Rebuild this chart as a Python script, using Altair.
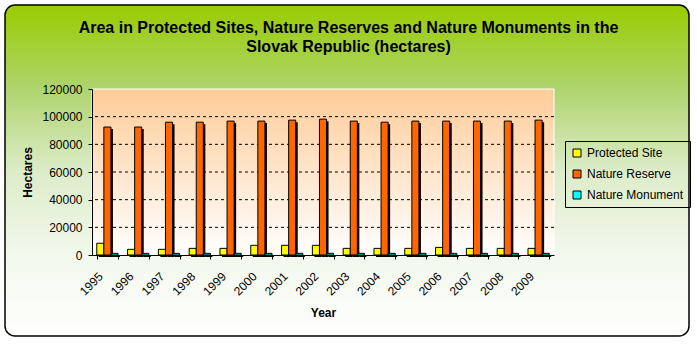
import altair as alt
import pandas as pd

years = [str(y) for y in range(1995, 2010)]
protected_site = [8500, 4100, 4100, 4800, 4800, 7000, 7000, 7000, 4800, 4800, 4800, 5500, 4800, 4800, 4800]
nature_reserve = [92500, 92500, 96000, 96000, 96800, 96800, 97500, 98200, 96800, 96000, 96800, 96800, 96800, 96800, 97500]
nature_monument = [1200, 1200, 1200, 1200, 1200, 1200, 1200, 1200, 1200, 1200, 1200, 1200, 1200, 1200, 1200]
series_names = ["Protected Site", "Nature Reserve", "Nature Monument"]
series_colors = ["#FFFF00", "#FF6600", "#00FFFF"]
grid_values = [20000, 40000, 60000, 80000, 100000]
y_ticks = [0, 20000, 40000, 60000, 80000, 100000, 120000]
title_lines = ["Area in Protected Sites, Nature Reserves and Nature Monuments in the",
               "Slovak Republic (hectares)"]

rows = []
for i, yr in enumerate(years):
    for name, vals in zip(series_names, [protected_site, nature_reserve, nature_monument]):
        rows.append({"Year": yr, "Series": name, "Hectares": vals[i]})
df = pd.DataFrame(rows)

W, H = 462, 166
FONT = "Liberation Sans"

x_scale = alt.Scale(paddingInner=0.31, paddingOuter=0.155)
x_axis = alt.Axis(title="Year", tickBand="extent", labelAngle=-45, labelAlign="right",
                  labelBaseline="middle", labelFontSize=12, labelFont=FONT, labelColor="black",
                  labelPadding=15, labelOffset=-7, tickSize=4, tickColor="black", domainColor="black",
                  grid=False,
                  titleFont=FONT, titleFontSize=12, titleFontWeight="bold", titleColor="black",
                  titleY=57, titleBaseline="middle", zindex=1)
y_scale = alt.Scale(domain=[0, 120000], nice=False)
y_axis = alt.Axis(title="Hectares", values=y_ticks, format="d", grid=False,
                  labelFontSize=12, labelFont=FONT, labelColor="black", labelPadding=6,
                  tickSize=4, tickColor="black", domainColor="black",
                  titleFont=FONT, titleFontSize=12, titleFontWeight="bold", titleColor="black",
                  titleX=-65, titleY=83, titleAlign="center", titleBaseline="middle", titleAngle=-90,
                  zindex=1)


def x_enc():
    return alt.X("Year:N", sort=years, scale=x_scale, axis=x_axis)


def y_enc():
    return alt.Y("Hectares:Q", scale=y_scale, axis=y_axis)


frame = alt.Chart(alt.Data(values=[{}])).mark_rect(
    cornerRadius=10, stroke="black", strokeWidth=1.5,
    fill=alt.Gradient(gradient="linear", x1=0, x2=0, y1=0, y2=1, stops=[
        alt.GradientStop(offset=0, color="#99CC00"),
        alt.GradientStop(offset=0.25, color="#AED46C"),
        alt.GradientStop(offset=0.5, color="#DCECC8"),
        alt.GradientStop(offset=0.75, color="#F2F8EC"),
        alt.GradientStop(offset=1, color="#FFFFFF")])
).encode(x=alt.value(-87), x2=alt.value(597), y=alt.value(-84), y2=alt.value(247))

title = alt.Chart(alt.Data(values=[{}])).mark_text(
    font=FONT, fontSize=16, fontWeight="bold", color="black", align="center",
    baseline="middle", lineHeight=19
).encode(x=alt.value(256.5), y=alt.value(-61), text=alt.value(title_lines))

plotbg = alt.Chart(alt.Data(values=[{}])).mark_rect(
    stroke="white", strokeWidth=1,
    fill=alt.Gradient(gradient="linear", x1=0, x2=0, y1=0, y2=1, stops=[
        alt.GradientStop(offset=0, color="#FFCC99"),
        alt.GradientStop(offset=1, color="#FFFFFF")])
).encode(x=alt.value(0), x2=alt.value(W), y=alt.value(0), y2=alt.value(H))

grid = alt.Chart(pd.DataFrame({"Hectares": grid_values})).mark_rule(
    color="black", strokeWidth=1, strokeDash=[3, 3]
).encode(y=y_enc())

shadow = alt.Chart(df).mark_bar(color="black", yOffset=2).encode(
    x=x_enc(),
    xOffset=alt.XOffset("Series:N", sort=series_names, scale=alt.Scale(range=[2, 23.25])),
    y=y_enc(),
)

bars = alt.Chart(df).mark_bar(stroke="black", strokeWidth=1).encode(
    x=x_enc(),
    xOffset=alt.XOffset("Series:N", sort=series_names),
    y=y_enc(),
    color=alt.Color("Series:N", sort=series_names,
                    scale=alt.Scale(domain=series_names, range=series_colors),
                    legend=alt.Legend(title=None, orient="none", legendX=473, legendY=52,
                                      padding=6, rowPadding=9, labelFont=FONT, labelFontSize=12,
                                      labelColor="black", symbolType="square", symbolSize=64,
                                      symbolStrokeColor="black", symbolStrokeWidth=1,
                                      strokeColor="black", labelOffset=4, zindex=1)),
)

chart = alt.layer(frame, title, plotbg, grid, shadow, bars).resolve_scale(
    xOffset="independent"
).properties(
    width=W, height=H,
    autosize="none",
    padding={"left": 92, "top": 89, "right": 697 - 92 - W, "bottom": 344 - 89 - H},
    background="white",
).configure_view(stroke=None)

chart.save("out.html", embed_options={"renderer": "svg", "actions": False})
